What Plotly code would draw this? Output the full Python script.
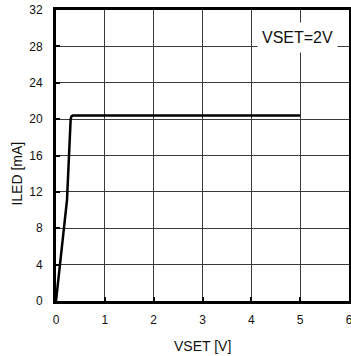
import plotly.graph_objects as go

# LED current vs. set voltage
vset = [0, 0.08, 0.16, 0.225, 0.3, 0.315, 0.34, 0.4, 1, 2, 3, 4, 5]
iled = [0, 3.9, 7.9, 11.1, 20.0, 20.3, 20.4, 20.4, 20.4, 20.4, 20.4, 20.4, 20.4]

x_ticks = [0, 1, 2, 3, 4, 5, 6]
y_ticks = [0, 4, 8, 12, 16, 20, 24, 28, 32]

font_main = "Liberation Sans, Arial, sans-serif"

fig = go.Figure()
fig.add_trace(go.Scatter(
    x=vset, y=iled, mode="lines",
    line=dict(color="black", width=2.5),
    showlegend=False, hoverinfo="skip",
))

axis_common = dict(
    showline=True, linecolor="black", linewidth=3, mirror=True,
    showgrid=True, gridcolor="#3a3a3a", gridwidth=1,
    ticks="inside", ticklen=4, tickwidth=2, tickcolor="black",
    zeroline=False, automargin=False, ticklabeloverflow="allow",
    tickfont=dict(family=font_main, size=12, color="#111"),
)

fig.update_xaxes(range=[0, 6], tickvals=x_ticks,
                 ticktext=[str(v) for v in x_ticks],
                 ticklabelstandoff=6, **axis_common)
fig.update_yaxes(range=[0, 32], tickvals=y_ticks,
                 ticktext=[str(v) for v in y_ticks],
                 ticklabelstandoff=8, **axis_common)

fig.add_annotation(
    x=4.94, y=29.0, xref="x", yref="y", text="VSET=2V",
    showarrow=False, font=dict(family=font_main, size=16, color="#111"),
    bgcolor="white", width=77, height=27, borderpad=1,
)
fig.add_annotation(
    x=0.5, y=0, xref="paper", yref="paper", text="VSET [V]",
    showarrow=False, yanchor="middle", yshift=-45,
    font=dict(family=font_main, size=14, color="#111"),
)
fig.add_annotation(
    x=0, y=0.436, xref="paper", yref="paper", text="ILED [mA]",
    showarrow=False, textangle=-90, xanchor="center", xshift=-38.5,
    font=dict(family=font_main, size=14, color="#111"),
)

fig.update_layout(
    width=351, height=356,
    margin=dict(l=56, r=2, t=10, b=55),
    paper_bgcolor="white", plot_bgcolor="white",
)

fig.write_html("out.html")
